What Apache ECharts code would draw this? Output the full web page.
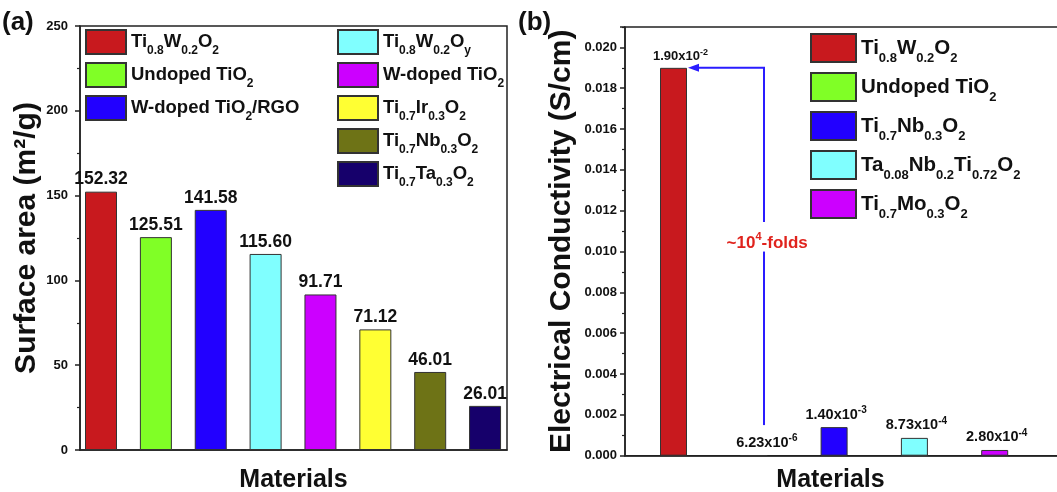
<!DOCTYPE html>
<html><head><meta charset="utf-8">
<script src="https://cdn.jsdelivr.net/npm/echarts@6/dist/echarts.min.js"></script>
<style>
html,body{margin:0;padding:0;background:#fff;}
#a{position:absolute;left:0;top:0;width:515px;height:492px}
#b{position:absolute;left:515px;top:0;width:542px;height:492px}
</style>
</head><body><div id="a"></div><div id="b"></div>
<script>
// ---------- data ----------
const areaNames = ['Ti_{0.8}W_{0.2}O_{2}','Undoped TiO_{2}','W-doped TiO_{2}/RGO','Ti_{0.8}W_{0.2}O_{y}','W-doped TiO_{2}','Ti_{0.7}Ir_{0.3}O_{2}','Ti_{0.7}Nb_{0.3}O_{2}','Ti_{0.7}Ta_{0.3}O_{2}'];
const areaValues = [152.32,125.51,141.58,115.60,91.71,71.12,46.01,26.01];
const areaColors = ['#c8191e','#80ff26','#2200ff','#80ffff','#cc00ff','#ffff33','#6e7316','#16006b'];
const areaTicks = [0,50,100,150,200,250];

const condNames = ['Ti_{0.8}W_{0.2}O_{2}','Undoped TiO_{2}','Ti_{0.7}Nb_{0.3}O_{2}','Ta_{0.08}Nb_{0.2}Ti_{0.72}O_{2}','Ti_{0.7}Mo_{0.3}O_{2}'];
const condValues = [1.90e-2, 6.23e-6, 1.40e-3, 8.73e-4, 2.80e-4];
const condColors = ['#c8191e','#80ff26','#2200ff','#80ffff','#cc00ff'];
const condTicks = ['0.000','0.002','0.004','0.006','0.008','0.010','0.012','0.014','0.016','0.018','0.020'];
const foldText = '~10^{4}-folds';

// ---------- helpers ----------
const NF = '"Liberation Sans Narrow","Arial Narrow","Liberation Sans",Arial,sans-serif';
const WF = '"Liberation Sans",Arial,sans-serif';
function toRich(str, n, s) {
  let out = '', last = 0, m; const re = /_\{([^}]*)\}/g;
  while ((m = re.exec(str))) {
    if (m.index > last) out += '{' + n + '|' + str.slice(last, m.index) + '}';
    out += '{' + s + '|' + m[1] + '}';
    last = re.lastIndex;
  }
  if (last < str.length) out += '{' + n + '|' + str.slice(last) + '}';
  return out;
}
function legendRich(fs, lh) {
  return {
    n: {fontFamily: NF, fontWeight: 'bold', fontSize: fs, color: '#111', lineHeight: lh, verticalAlign: 'middle'},
    s: {fontFamily: NF, fontWeight: 'bold', fontSize: Math.round(fs * 0.64), color: '#111', lineHeight: Math.round(fs * 0.64), verticalAlign: 'bottom', padding: [0, 0, -3, 0]}
  };
}

// ---------- chart (a) ----------
const ca = echarts.init(document.getElementById('a'), null, {renderer: 'canvas'});
const aMax = areaTicks[areaTicks.length - 1];
const aSeries = areaNames.map((nm, i) => ({
  name: nm, type: 'bar', stack: 'all', barWidth: 32,
  data: [[i + 1, areaValues[i]]],
  itemStyle: {color: areaColors[i], borderColor: '#333', borderWidth: 1},
  label: {show: true, position: 'top', distance: 3, fontFamily: NF, fontWeight: 'bold', fontSize: 17.5, color: '#111',
    formatter: p => p.value[1].toFixed(2)}
}));
ca.setOption({
  animation: false,
  grid: {left: 80, top: 26, width: 427, height: 424, show: true, borderColor: '#222', borderWidth: 1.5,
    containLabel: false, outerBoundsMode: 'none'},
  legend: [
    {data: areaNames.slice(0, 3), orient: 'vertical', left: 85, top: 29, padding: 0, itemWidth: 40, itemHeight: 24, itemGap: 5, icon: 'rect',
      formatter: nm => toRich(nm, 'n', 's'), textStyle: {rich: legendRich(18.5, 24)}},
    {data: areaNames.slice(3), orient: 'vertical', left: 337, top: 29, padding: 0, itemWidth: 40, itemHeight: 24, itemGap: 5, icon: 'rect',
      formatter: nm => toRich(nm, 'n', 's'), textStyle: {rich: legendRich(18.5, 24)}}
  ],
  xAxis: {type: 'value', min: 0.617, max: 8.40, axisLine: {lineStyle: {color: '#222', width: 1.5}}, axisTick: {show: false},
    axisLabel: {show: false}, splitLine: {show: false},
    name: 'Materials', nameLocation: 'middle', nameGap: 18,
    nameTextStyle: {fontFamily: NF, fontWeight: 'bold', fontSize: 25, color: '#111'}},
  yAxis: {type: 'value', min: areaTicks[0], max: aMax, interval: areaTicks[1] - areaTicks[0],
    axisLine: {show: true, lineStyle: {color: '#222', width: 1.5}},
    axisTick: {show: true, length: 5, lineStyle: {color: '#222', width: 1.5}},
    minorTick: {show: true, splitNumber: 2, length: 3, lineStyle: {color: '#222', width: 1.2}},
    axisLabel: {margin: 12, fontFamily: NF, fontWeight: 'bold', fontSize: 13, color: '#111'},
    splitLine: {show: false},
    name: 'Surface area (m²/g)', nameLocation: 'middle', nameGap: 38, nameRotate: 90, nameMoveOverlap: false,
    nameTextStyle: {fontFamily: WF, fontWeight: 'bold', fontSize: 30, color: '#111'}},
  series: aSeries,
  graphic: [{type: 'text', left: 2, top: 10, style: {text: '(a)', font: 'bold 26px ' + WF, fill: '#111'}}]
});

// ---------- chart (b) ----------
const cb = echarts.init(document.getElementById('b'), null, {renderer: 'canvas'});
const bMax = 0.021;
const bSeries = condNames.map((nm, i) => ({
  name: nm, type: 'bar', stack: 'all', barWidth: 27,
  data: [[i + 1, condValues[i]]],
  itemStyle: {color: condColors[i], borderColor: '#333', borderWidth: 1},
  label: {show: true, position: 'top', distance: 5, offset: [i === 0 ? 7 : (i === 1 ? 13 : 2), 0],
    formatter: p => { const e = p.value[1].toExponential(2).split('e'); return '{b|' + e[0] + 'x10}{p|' + (+e[1]) + '}'; },
    rich: {
      b: {fontFamily: NF, fontWeight: 'bold', fontSize: i === 0 ? 13 : 14.5, color: '#111', lineHeight: i === 0 ? 15 : 17, verticalAlign: 'bottom'},
      p: {fontFamily: NF, fontWeight: 'bold', fontSize: i === 0 ? 9 : 10, color: '#111', lineHeight: 10, verticalAlign: 'top'}
    }}
}));
const bLeft = 110, bWidth = 435; // grid in chart-b coordinates (page x 625 .. beyond)
cb.setOption({
  animation: false,
  grid: {left: bLeft, top: 27, width: bWidth, height: 428.7, show: true, borderColor: '#222', borderWidth: 1.5,
    containLabel: false, outerBoundsMode: 'none'},
  legend: {data: condNames, orient: 'vertical', left: 295, top: 33, padding: 0, itemWidth: 45, itemHeight: 28, itemGap: 7, icon: 'rect',
    formatter: nm => toRich(nm, 'n', 's'), textStyle: {rich: legendRich(20.5, 28)}},
  xAxis: {type: 'value', min: 0.396, max: 0.396 + bWidth / 80.3, axisLine: {lineStyle: {color: '#222', width: 1.5}},
    axisTick: {show: false}, axisLabel: {show: false}, splitLine: {show: false},
    name: 'Materials', nameLocation: 'middle', nameGap: 12,
    nameTextStyle: {fontFamily: NF, fontWeight: 'bold', fontSize: 25, color: '#111', padding: [0, 24, 0, 0]}},
  yAxis: {type: 'value', min: 0, max: bMax, interval: 0.002,
    axisLine: {show: true, lineStyle: {color: '#222', width: 1.5}},
    axisTick: {show: true, length: 5, lineStyle: {color: '#222', width: 1.5}},
    minorTick: {show: true, splitNumber: 2, length: 3, lineStyle: {color: '#222', width: 1.2}},
    axisLabel: {margin: 8, fontFamily: NF, fontWeight: 'bold', fontSize: 13, color: '#111',
      formatter: (v) => condTicks[Math.round(v / 0.002)] || ''},
    splitLine: {show: false},
    name: 'Electrical Conductivity (S/cm)', nameLocation: 'middle', nameGap: 48, nameRotate: 90, nameMoveOverlap: false,
    nameTextStyle: {fontFamily: WF, fontWeight: 'bold', fontSize: 30, color: '#111'}},
  series: bSeries
});

// annotation arrow anchored to data coordinates
(function () {
  const ax = 2.127;
  const barTop = cb.convertToPixel({gridIndex: 0}, [1, condValues[0]]);
  const edgeX = barTop[0] + 27 / 2 + 1;
  const pTop = cb.convertToPixel({gridIndex: 0}, [ax, condValues[0]]);
  const pGapTop = cb.convertToPixel({gridIndex: 0}, [ax, 0.01145]);
  const pGapBot = cb.convertToPixel({gridIndex: 0}, [ax, 0.0100]);
  const pBot = cb.convertToPixel({gridIndex: 0}, [ax, 0.0015]);
  const pTxt = cb.convertToPixel({gridIndex: 0}, [ax + 0.04, 0.0105]);
  const blue = '#2a1cff';
  const m = foldText.match(/^(.*)\^\{(.*)\}(.*)$/);
  cb.setOption({graphic: [
    {type: 'text', left: 3, top: 10, style: {text: '(b)', font: 'bold 26px ' + WF, fill: '#111'}},
    {type: 'polyline', shape: {points: [[pBot[0], pBot[1]], [pGapBot[0], pGapBot[1]]]}, style: {stroke: blue, lineWidth: 2}},
    {type: 'polyline', shape: {points: [[pGapTop[0], pGapTop[1]], [pTop[0], pTop[1]], [edgeX + 9, pTop[1]]]}, style: {stroke: blue, lineWidth: 2, fill: null}},
    {type: 'polygon', shape: {points: [[edgeX, pTop[1]], [edgeX + 11, pTop[1] - 4], [edgeX + 11, pTop[1] + 4]]}, style: {fill: blue}},
    {type: 'text', x: pTxt[0], y: pTxt[1], style: {
      text: '{t|' + m[1] + '}{u|' + m[2] + '}{t|' + m[3] + '}', align: 'center', verticalAlign: 'middle',
      rich: {t: {font: 'bold 17px ' + NF, fill: '#e0231d', lineHeight: 20, verticalAlign: 'bottom'},
             u: {font: 'bold 11px ' + NF, fill: '#e0231d', lineHeight: 11, verticalAlign: 'top'}}}}
  ]});
})();
</script>
</body></html>
